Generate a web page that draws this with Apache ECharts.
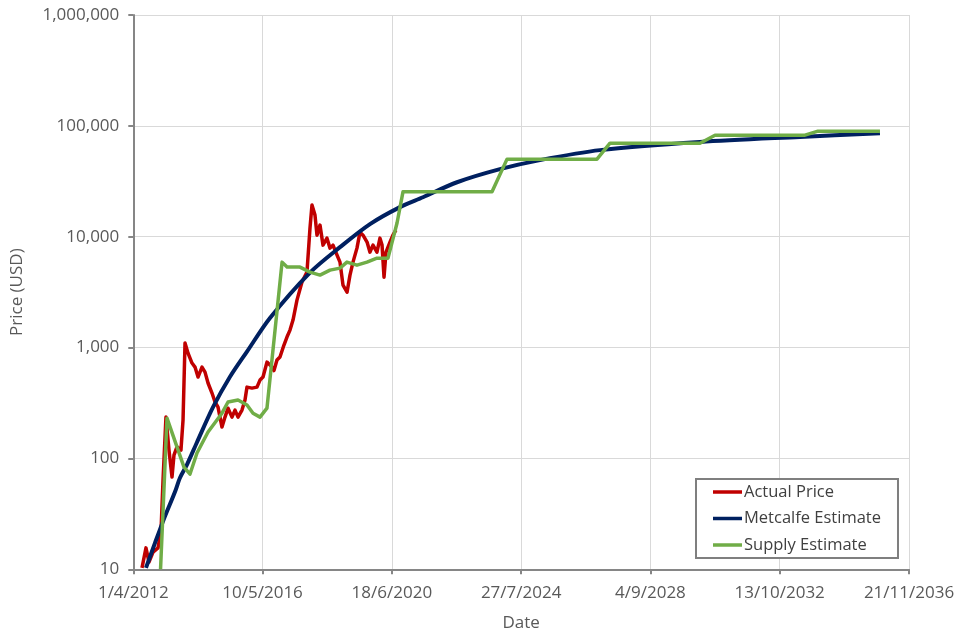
<!DOCTYPE html>
<html>
<head>
<meta charset="utf-8">
<script src="https://cdn.jsdelivr.net/npm/echarts@6/dist/echarts.min.js"></script>
<style>
html,body{margin:0;padding:0;background:#fff;}
#chart{width:976px;height:637px;}
</style>
</head>
<body>
<div id="chart"></div>
<script>
// x values: days since 1 Apr 2012 (axis origin)
const xTickLabels = ['1/4/2012','10/5/2016','18/6/2020','27/7/2024','4/9/2028','13/10/2032','21/11/2036'];
const yTickLabels = {10:'10',100:'100',1000:'1,000',10000:'10,000',100000:'100,000',1000000:'1,000,000'};
const seriesNames = ['Actual Price','Metcalfe Estimate','Supply Estimate'];

const priceDays = [101,147,182,229,287,322,345,379,414,449,472,507,553,577,
  600,635,681,716,751,797,832,867,913,948,983,1029,1064,1099,1145,1180,1215,1261,1296,1319,1377,1435,1470,1505,1551,1609,1632,1667,
  1702,1748,1783,1818,1853,1899,1957,2015,2050,2073,2108,2131,2166,2201,2247,2282,
  2317,2364,2398,2433,2480,2514,2549,2595,2630,2665,2712,2746,2781,2827,2862,2886,2909,2932,2978,3012,3047];
const priceValues = [10.3,15.6,11.6,14.3,15.6,22.6,63.9,236,119,68,107,127,119,222,
  1098,891,725,667,542,667,601,479,389,323,290,192,236,284,236,273,236,273,336,440,431,440,509,542,740,667,620,771,
  821,1054,1244,1438,1770,2680,3900,4800,11960,19280,15660,10330,12730,8400,9710,7890,
  8400,6820,5900,3660,3160,4500,5900,7890,11000,10330,8940,7260,8400,7260,9710,8400,4320,7260,8940,10330,11480];

const metcalfeDays = [147,252,356,484,542,623,739,925,1122,1319,1586,2050,2398,2746,3094,3361,3756,4254,4718,5415,6575,7735,8663];
const metcalfeValues = [10.3,17.3,28.5,50,67,88,140,290,545,920,1850,4750,8050,13000,18500,22700,31000,40700,49100,60400,71500,79500,85900];

const supplyDays = [316,391,588,658,739,867,1029,1099,1215,1319,1389,1470,1551,1726,1784,1934,2050,2166,2282,2398,2479,2595,2711,2827,2955,3060,3129,4162,4336,5380,5531,6575,6749,7793,7944,8663];
const supplyValues = [10,231,83.6,72.3,112,173,256,323,336,303,256,236,284,5900,5320,5320,4800,4510,5000,5210,5900,5540,5900,6410,6410,13300,25400,25400,50100,50100,69800,69800,82400,82400,89600,89600];

const zip = (xs, ys) => xs.map((x, i) => [x, ys[i]]);
const FONT = 'Open Sans';
const TXT = '#595959';
const AX = '#868686';
const GRID = '#d9d9d9';

const chart = echarts.init(document.getElementById('chart'), null, {renderer:'canvas'});
chart.setOption({
  animation:false,
  backgroundColor:'#ffffff',
  grid:{left:133.3, right:67, top:15, bottom:67.7, containLabel:false, outerBoundsMode:'none'},
  legend:{
    orient:'vertical', left:696, top:479,
    backgroundColor:'#ffffff', borderColor:'#7f7f7f', borderWidth:2,
    padding:[3,17,3,17], itemGap:6.5,
    itemWidth:29, itemHeight:3.5, icon:'rect',
    textStyle:{fontFamily:FONT, fontSize:16.5, color:'#404040', lineHeight:20, padding:[0,0,0,-3]},
    data:seriesNames
  },
  xAxis:{
    type:'value', min:0, max:9000, interval:1500,
    name:'Date', nameLocation:'middle', nameGap:45,
    nameTextStyle:{fontFamily:FONT, fontSize:17, color:TXT},
    axisLine:{show:true, lineStyle:{color:AX, width:2}},
    axisTick:{show:true, length:5, lineStyle:{color:AX, width:2}},
    axisLabel:{fontFamily:FONT, fontSize:17, color:TXT, margin:15,
      formatter:(v)=> xTickLabels[Math.round(v/1500)] || ''},
    splitLine:{show:true, lineStyle:{color:GRID, width:1}}
  },
  yAxis:{
    type:'log', logBase:10, min:10, max:1000000,
    name:'Price (USD)', nameLocation:'middle', nameGap:108, nameRotate:90,
    nameTextStyle:{fontFamily:FONT, fontSize:17, color:TXT},
    axisLine:{show:true, lineStyle:{color:AX, width:2}},
    axisTick:{show:true, length:5, lineStyle:{color:AX, width:2}},
    axisLabel:{fontFamily:FONT, fontSize:17, color:TXT, margin:14,
      formatter:(v)=> yTickLabels[Math.round(v)] || ''},
    splitLine:{show:true, lineStyle:{color:GRID, width:1}}
  },
  series:[
    {name:seriesNames[0], type:'line', data:zip(priceDays, priceValues), showSymbol:false, symbol:'none',
      lineStyle:{color:'#c00000', width:3.5, join:'round'}, itemStyle:{color:'#c00000'}, z:2},
    {name:seriesNames[1], type:'line', data:zip(metcalfeDays, metcalfeValues), showSymbol:false, symbol:'none', smooth:0.3,
      lineStyle:{color:'#002060', width:4}, itemStyle:{color:'#002060'}, z:3},
    {name:seriesNames[2], type:'line', data:zip(supplyDays, supplyValues), showSymbol:false, symbol:'none',
      lineStyle:{color:'#70ad47', width:3.5, join:'round'}, itemStyle:{color:'#70ad47'}, z:4}
  ]
});
</script>
</body>
</html>
